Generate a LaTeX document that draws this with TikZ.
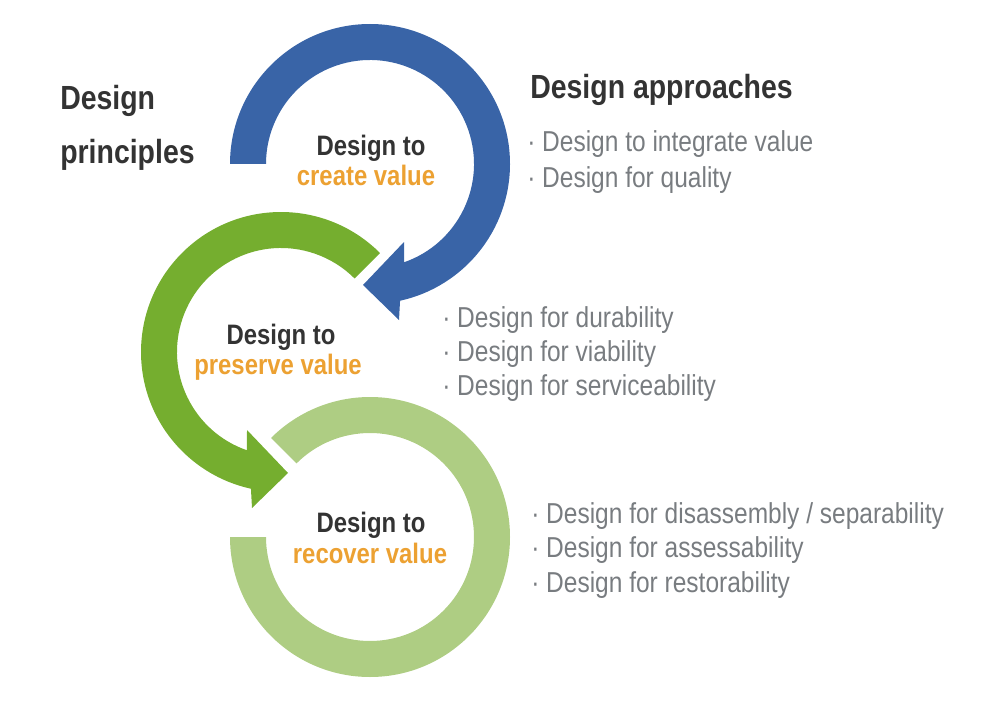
\documentclass[tikz,border=0pt]{standalone}
\usepackage{fontspec}
\setmainfont[FakeStretch=0.85]{Liberation Sans}
\definecolor{ringblue}{RGB}{57,100,167}
\definecolor{ringgreen}{RGB}{117,174,47}
\definecolor{ringlight}{RGB}{174,205,131}
\definecolor{valueorange}{RGB}{236,161,50}
\definecolor{darktext}{RGB}{51,51,51}
\definecolor{greytext}{RGB}{120,124,128}

\begin{document}
\begin{tikzpicture}[x=0.025cm,y=0.025cm,
    heading/.style={anchor=base west,inner sep=0pt,text=darktext,font=\fontsize{23.8}{28}\selectfont\bfseries},
    designto/.style={anchor=base,inner sep=0pt,text=darktext,font=\fontsize{20}{24}\selectfont\bfseries},
    goal/.style={anchor=base,inner sep=0pt,text=valueorange,font=\fontsize{20}{24}\selectfont\bfseries},
    approach/.style={anchor=base west,inner sep=0pt,text=greytext,font=\fontsize{20.5}{24}\selectfont}]
    \useasboundingbox (0,0) rectangle (1000,700);
    \coordinate (create) at (370,536);
    \coordinate (preserve) at (281,348);
    \coordinate (recover) at (370,163);
    % rings
    \fill[ringlight,shift={(recover)}] (180:140) arc[start angle=180,end angle=495,radius=140]
        -- (495:104) arc[start angle=495,end angle=180,radius=104] -- cycle;
    \fill[ringgreen,shift={(preserve)}] (45:140) arc[start angle=45,end angle=257.6,radius=140]
        -- (-29,-156) -- (7,-121) -- (-34,-78)
        -- (250.9:104) arc[start angle=250.9,end angle=45,radius=104] -- cycle;
    \fill[ringblue,shift={(create)}] (180:140) arc[start angle=180,end angle=-77.6,radius=140]
        -- (29,-156) -- (-7,-121) -- (34,-78)
        -- (-70.9:104) arc[start angle=-70.9,end angle=180,radius=104] -- cycle;
    % ring labels
    \node[designto] (create1) at (371,544) {Design to};
    \node[goal] (create2) at (366,515) {create value};
    \node[designto] (preserve1) at (281,356) {Design to};
    \node[goal] (preserve2) at (278,326) {preserve value};
    \node[designto] (recover1) at (371,168) {Design to};
    \node[goal] (recover2) at (370,137) {recover value};
    % headings
    \node[heading] (principles1) at (60,590) {Design};
    \node[heading] (principles2) at (60,536) {principles};
    \node[heading] (approaches) at (530,601) {Design approaches};
    % approaches
    \node[approach] (a1) at (527,548) {· Design to integrate value};
    \node[approach] (a2) at (527,513) {· Design for quality};
    \node[approach] (a3) at (442,373) {· Design for durability};
    \node[approach] (a4) at (442,339) {· Design for viability};
    \node[approach] (a5) at (442,305) {· Design for serviceability};
    \node[approach] (a6) at (531,177) {· Design for disassembly / separability};
    \node[approach] (a7) at (531,143) {· Design for assessability};
    \node[approach] (a8) at (531,108) {· Design for restorability};
\end{tikzpicture}
\end{document}
